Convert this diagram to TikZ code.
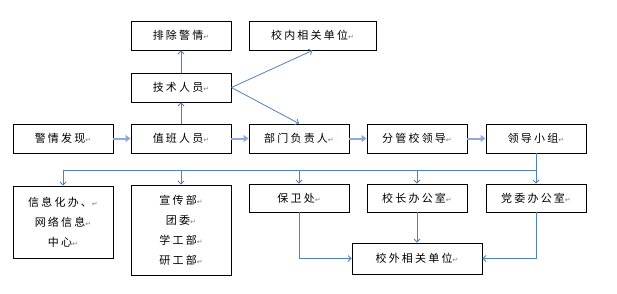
\documentclass[tikz,border=0pt]{standalone}
\usepackage{fontspec}
\usetikzlibrary{arrows.meta, positioning}
\newfontfamily\cjk[LetterSpace=20]{Noto Sans CJK SC}
\newfontfamily\symf{DejaVu Sans}
\definecolor{cblue}{HTML}{4F81BD}
\definecolor{clight}{HTML}{8EAADB}
\definecolor{cgrey}{HTML}{808080}
\newcommand{\pmk}{{\symf\fontsize{7}{7}\selectfont\textcolor{cgrey}{↵}}}
\tikzset{
  every picture/.style={font=\cjk\fontsize{11}{20}\selectfont},
  box/.style={draw=black, line width=0.9pt, minimum width=100pt, minimum height=29pt, align=center, inner sep=2pt},
  link/.style={-{Straight Barb[length=3pt, width=6pt]}, draw=cblue, line width=0.8pt},
  flow/.style={-{Triangle[length=5pt, width=7pt]}, draw=clight, line width=2pt},
}

\begin{document}
\begin{tikzpicture}[x=1pt, y=-1pt]
  \useasboundingbox (0,0) rectangle (617,293);
  % top rows
  \node[box] (clear) at (181, 35.5) {排除警情\pmk};
  \node[box, minimum width=127pt] (inside) at (312.5, 35.5) {校内相关单位\pmk};
  \node[box] (tech) at (181, 87.5) {技术人员\pmk};
  % main chain
  \node[box] (find) at (63, 138.5) {警情发现\pmk};
  \node[box] (duty) at (181, 138.5) {值班人员\pmk};
  \node[box] (dept) at (299, 138.5) {部门负责人\pmk};
  \node[box] (lead) at (417, 138.5) {分管校领导\pmk};
  \node[box] (group) at (536, 138.5) {领导小组\pmk};
  % offices
  \node[box, minimum height=72pt] (info) at (63, 222) {信息化办、\pmk\\网络信息\pmk\\中心\pmk};
  \node[box, minimum height=90pt] (publ) at (181, 230) {宣传部\pmk\\团委\pmk\\学工部\pmk\\研工部\pmk};
  \node[box, minimum height=28pt] (guard) at (299, 198) {保卫处\pmk};
  \node[box, minimum height=28pt] (pres) at (417, 198) {校长办公室\pmk};
  \node[box, minimum height=28pt] (party) at (536, 198) {党委办公室\pmk};
  \node[box, minimum width=130pt, minimum height=31pt] (outside) at (417, 258.5) {校外相关单位\pmk};

  \draw[flow] (find) -- (duty);
  \draw[flow] (duty) -- (dept);
  \draw[flow] (dept) -- (lead);
  \draw[flow] (lead) -- (group);
  \draw[link] (duty) -- (tech);
  \draw[link] (tech) -- (clear);
  \draw[link] (tech.east) -- (inside.south);
  \draw[link] (tech.east) -- (dept.north);

  % distribution line
  \coordinate (busL) at (63, 170);
  \coordinate (busR) at (536, 170);
  \draw[draw=cblue, line width=0.8pt] (group.south) -- (busR) -- (busL);
  \draw[link] (busL) -- (info.north);
  \draw[link] (publ.north |- busR) -- (publ.north);
  \draw[link] (guard.north |- busR) -- (guard.north);
  \draw[link] (pres.north |- busR) -- (pres.north);
  \draw[link] (busR) -- (party.north);

  \draw[link] (guard.south) |- (outside.west);
  \draw[link] (pres.south) -- (outside.north);
  \draw[link] (party.south) |- (outside.east);
\end{tikzpicture}
\end{document}
